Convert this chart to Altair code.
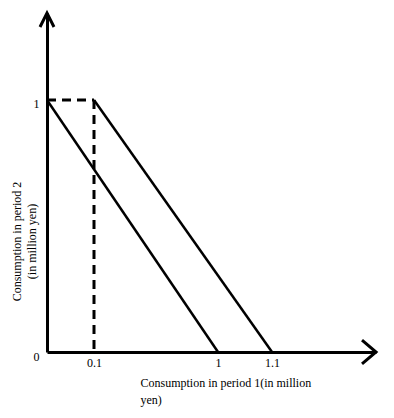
import altair as alt
import pandas as pd

# Budget lines (consumption in period 1 vs period 2, million yen)
line_id = ["no_borrow", "no_borrow", "with_income", "with_income"]
line_x = [0.0, 1.0, 0.1, 1.1]
line_y = [1.0, 0.0, 1.0, 0.0]

# Dashed guide: from (0,1) to (0.1,1) and down to (0.1,0)
guide_x = [0.0, 0.1]
guide_x2 = [0.1, 0.1]
guide_y = [1.0, 1.0]
guide_y2 = [1.0, 0.0]

x_ticks = [0.1, 1, 1.1]
y_ticks = [0, 1]

x_domain = [0, 0.1, 1, 1.1, 1.5]
x_range = [0, 47, 171, 225, 329]
y_max = 1.345

FONT = "Liberation Serif"

lines_df = pd.DataFrame({"id": line_id, "x": line_x, "y": line_y})
guide_df = pd.DataFrame({"x": guide_x, "x2": guide_x2, "y": guide_y, "y2": guide_y2})
arrow_df = pd.DataFrame({"x": [x_domain[-1], 0], "y": [0, y_max],
                         "shape": ["right", "up"]})

xscale = alt.Scale(domain=x_domain, range=x_range, nice=False, zero=False)
yscale = alt.Scale(domain=[0, y_max], nice=False)

xaxis = alt.Axis(
    values=x_ticks, format=".2~f", ticks=False, grid=False,
    domain=True, domainColor="black", domainWidth=3,
    labelPadding=5, labelFont=FONT, labelFontSize=12, labelColor="black",
    title=["Consumption in period 1(in million", "yen)"],
    titleFont=FONT, titleFontSize=12, titleFontWeight="normal", titleColor="black",
    titleX=93, titleY=25, titleAlign="left", titleBaseline="top",
    titleLineHeight=17, titleAnchor="start",
)
yaxis = alt.Axis(
    values=y_ticks, format="d", ticks=False, grid=False,
    domain=True, domainColor="black", domainWidth=3,
    labelPadding=8, labelOffset=4, labelFont=FONT, labelFontSize=12, labelColor="black",
    title=["Consumption in period 2", "(in million yen)"],
    titleFont=FONT, titleFontSize=12, titleFontWeight="normal", titleColor="black",
    titleAngle=270, titleX=-36, titleY=228, titleAlign="center", titleBaseline="top",
    titleLineHeight=15,
)

base_lines = alt.Chart(lines_df).mark_line(color="black", strokeWidth=2.5).encode(
    x=alt.X("x:Q", scale=xscale, axis=xaxis),
    y=alt.Y("y:Q", scale=yscale, axis=yaxis),
    detail="id:N",
)

guides = alt.Chart(guide_df).mark_rule(color="black", strokeWidth=3, strokeDash=[9, 6]).encode(
    x=alt.X("x:Q", scale=xscale),
    x2="x2:Q",
    y=alt.Y("y:Q", scale=yscale),
    y2="y2:Q",
)

right_arrow = alt.Chart(arrow_df[arrow_df["shape"] == "right"]).mark_point(
    shape="M-1,-0.85L0,0L-1,0.85", size=784, filled=False, stroke="black",
    strokeWidth=3, opacity=1,
).encode(x=alt.X("x:Q", scale=xscale), y=alt.Y("y:Q", scale=yscale))

up_arrow = alt.Chart(arrow_df[arrow_df["shape"] == "up"]).mark_point(
    shape="M-0.5,1L0,0L0.5,1", size=784, filled=False, stroke="black",
    strokeWidth=3, opacity=1,
).encode(x=alt.X("x:Q", scale=xscale), y=alt.Y("y:Q", scale=yscale))

chart = alt.layer(base_lines, guides, right_arrow, up_arrow).properties(
    width=329, height=339,
    autosize=alt.AutoSizeParams(type="none"),
    padding={"left": 39, "top": 5, "right": 10, "bottom": 55},
    background="white",
).configure_view(stroke=None)

chart.save("out.html", embed_options={"renderer": "svg", "actions": False})
